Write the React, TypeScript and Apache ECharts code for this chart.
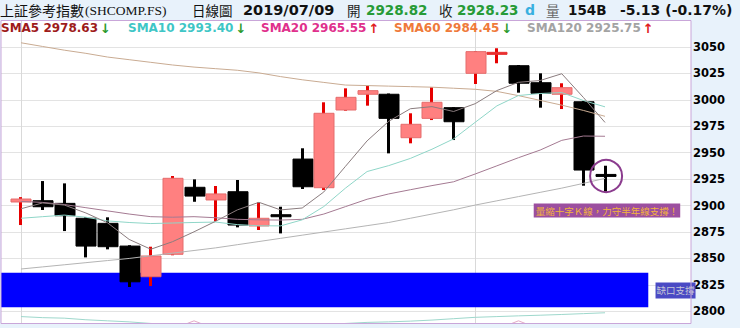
import React, { useEffect, useRef } from 'react';
import * as echarts from 'echarts';

// trading days (index = position on the x axis)
const dates = [
  '05/30', '05/31', '06/03', '06/04', '06/05', '06/06', '06/10', '06/11', '06/12', '06/13',
  '06/14', '06/17', '06/18', '06/19', '06/20', '06/21', '06/24', '06/25', '06/26', '06/27',
  '06/28', '07/01', '07/02', '07/03', '07/04', '07/05', '07/08', '07/09',
];
const opens = [
  2903.4, 2904.6, 2902.1, 2888.0, 2883.2, 2861.7, 2832.7, 2853.9, 2917.3, 2905.3,
  2913.1, 2880.7, 2890.8, 2944.0, 2916.9, 2990.4, 3005.3, 3005.3, 2964.2, 2982.5,
  2992.6, 3025.1, 3043.5, 3032.3, 3016.2, 3005.3, 2998.2, 2928.82,
];
const closes = [
  2906.2, 2898.9, 2890.4, 2861.7, 2861.1, 2827.9, 2852.3, 2925.8, 2909.0, 2911.0,
  2881.6, 2888.0, 2890.0, 2917.8, 2987.3, 3002.4, 3008.7, 2982.5, 2976.9, 2997.7,
  2979.3, 3045.6, 3044.5, 3015.7, 3006.2, 3011.5, 2933.6, 2928.23,
];
const highs = [
  2908.0, 2923.2, 2921.0, 2889.0, 2888.9, 2862.5, 2861.1, 2928.0, 2924.8, 2918.5,
  2924.2, 2903.1, 2898.9, 2954.2, 2997.7, 3010.9, 3013.4, 3006.0, 2987.3, 3011.9,
  2993.0, 3046.2, 3048.8, 3033.0, 3025.1, 3015.7, 2999.0, 2937.7,
];
const lows = [
  2881.6, 2895.8, 2875.9, 2851.0, 2858.6, 2823.0, 2823.9, 2853.0, 2903.6, 2885.4,
  2879.4, 2876.9, 2873.7, 2915.7, 2914.7, 2989.7, 2994.5, 2949.4, 2958.9, 2980.9,
  2962.0, 3015.0, 3034.6, 3006.8, 2992.6, 2991.3, 2918.8, 2913.1,
];
const sma5 = [
  2897.0, 2902.5, 2900.5, 2893.0, 2883.7, 2868.0, 2858.7, 2865.8, 2875.2, 2885.2,
  2895.9, 2903.1, 2895.9, 2897.7, 2912.9, 2937.1, 2961.2, 2979.7, 2991.6, 2993.6,
  2989.0, 2996.4, 3008.8, 3016.6, 3018.3, 3024.7, 3002.3, 2978.63,
];
const sma10 = [
  2888.0, 2889.5, 2891.0, 2889.0, 2885.5, 2884.0, 2883.0, 2883.5, 2884.0, 2884.4,
  2882.0, 2880.9, 2880.8, 2886.5, 2899.1, 2916.5, 2932.2, 2937.8, 2944.6, 2953.3,
  2963.1, 2978.8, 2994.3, 3004.1, 3006.0, 3006.9, 2999.4, 2993.40,
];
const sma20 = [
  2904.0, 2903.0, 2901.0, 2898.0, 2895.0, 2892.0, 2889.5, 2889.0, 2889.5, 2888.5,
  2887.0, 2886.5, 2886.3, 2887.0, 2892.0, 2899.0, 2906.0, 2911.0, 2915.0, 2918.9,
  2922.5, 2929.9, 2937.6, 2945.3, 2952.5, 2961.7, 2965.8, 2965.55,
];
const sma60 = [
  3054.0, 3050.5, 3047.0, 3044.0, 3040.5, 3038.0, 3035.5, 3033.0, 3031.0, 3029.5,
  3028.0, 3025.5, 3022.0, 3019.0, 3016.5, 3014.0, 3013.5, 3013.0, 3012.5, 3012.0,
  3011.0, 3010.0, 3008.0, 3004.0, 2999.5, 2995.0, 2990.0, 2984.45,
];
const sma120 = [
  2840.0, 2842.0, 2844.0, 2846.0, 2848.0, 2850.0, 2852.5, 2855.0, 2857.5, 2860.0,
  2863.0, 2866.0, 2869.0, 2872.0, 2875.0, 2878.0, 2881.0, 2884.0, 2888.0, 2892.0,
  2896.0, 2900.5, 2904.5, 2908.5, 2912.5, 2916.5, 2921.0, 2925.75,
];
// faint lines peeking above the bottom of the frame
const lowTeal = [
  2795.0, 2794.0, 2793.5, 2792.0, 2791.0, 2790.0, 2788.5, 2787.5, 2787.0, 2786.5,
  2786.0, 2786.0, 2786.5, 2787.0, 2787.5, 2788.5, 2789.5, 2790.0, 2790.7, 2791.7,
  2793.0, 2794.3, 2795.0, 2795.7, 2796.3, 2797.0, 2797.8, 2798.6,
];
const lowPink = [
  2783, 2783, 2783, 2783, 2783, 2783, 2783, 2783, 2791, 2783,
  2783, 2783, 2783, 2783, 2783, 2783, 2783, 2783, 2783, 2783,
  2783, 2783, 2783, 2791, 2783, 2783, 2783, 2783,
];

const legendItems = [
  { name: 'SMA5', value: '2978.63', up: false, color: '#9e1b1b', x: 1 },
  { name: 'SMA10', value: '2993.40', up: false, color: '#3fc6c6', x: 128 },
  { name: 'SMA20', value: '2965.55', up: true, color: '#e0308c', x: 261 },
  { name: 'SMA60', value: '2984.45', up: false, color: '#ef7a3a', x: 394 },
  { name: 'SMA120', value: '2925.75', up: true, color: '#a3a3a3', x: 527 },
];

const Y_MIN = 2775;
const Y_MAX = 3075;
const Y_STEP = 25;
const X_MIN = -0.9246;
const X_MAX = 30.975;

const gapBox = { fromIdx: X_MIN, toIdx: 29, top: 2836.5, bottom: 2803.8 };
const noteText = '量縮十字Ｋ線，力守半年線支撐！';
const gapText = '缺口支撐';

const BG = '#e8f2fb';
const CJK = '"Noto Sans CJK TC", "Noto Sans CJK SC", sans-serif';
const SANS = '"DejaVu Sans", Verdana, sans-serif';

export default function App() {
  const ref = useRef<HTMLDivElement>(null);

  useEffect(() => {
    document.body.style.margin = '0';
    const chart = echarts.init(ref.current as HTMLDivElement, undefined, { renderer: 'svg' });

    const line = (name: string, data: number[], color: string, z = 4) => ({
      type: 'line',
      name,
      data: data.map((v, i) => [i, v]),
      showSymbol: false,
      symbol: 'none',
      silent: true,
      z,
      lineStyle: { color, width: 1 },
    });

    const header: any[] = [
      { t: '上証參考指數', x: 0, font: `14px ${CJK}`, fill: '#111' },
      { t: '(SHCOMP.FS)', x: 85, font: '13.5px "Liberation Serif", serif', fill: '#111' },
      { t: '日線圖', x: 192, font: `13.5px ${CJK}`, fill: '#111' },
      { t: '2019/07/09', x: 243, font: `bold 14.5px ${SANS}`, fill: '#111' },
      { t: '開', x: 347, font: `13.5px ${CJK}`, fill: '#222' },
      { t: '2928.82', x: 366, font: `bold 13.5px ${SANS}`, fill: '#279b37' },
      { t: '收', x: 439, font: `13.5px ${CJK}`, fill: '#222' },
      { t: '2928.23', x: 457, font: `bold 13.5px ${SANS}`, fill: '#279b37' },
      { t: 'd', x: 525, font: `bold 14px ${SANS}`, fill: '#38b0e0' },
      { t: '量', x: 546, font: `13.5px ${CJK}`, fill: '#666' },
      { t: '154B', x: 568, font: `bold 13.5px ${SANS}`, fill: '#111' },
      { t: '-5.13 (-0.17%)', x: 620, font: `bold 14px ${SANS}`, fill: '#111' },
    ].map((h) => ({
      type: 'text',
      x: h.x,
      y: 10,
      silent: true,
      z: 30,
      style: { text: h.t, font: h.font, fill: h.fill, verticalAlign: 'middle' },
    }));

    const legend: any[] = legendItems.map((it) => ({
      type: 'text',
      x: it.x,
      y: 28,
      silent: true,
      z: 30,
      style: {
        text: `{n|${it.name} ${it.value}}{a|${it.up ? '↑' : '↓'}}`,
        verticalAlign: 'middle',
        rich: {
          n: { font: `bold 12px ${SANS}`, fill: it.color },
          a: { font: `bold 13px ${SANS}`, fill: it.up ? '#e02020' : '#2a9a2a', padding: [0, 0, 0, 2] },
        },
      },
    }));

    const option: any = {
      animation: false,
      backgroundColor: BG,
      grid: {
        left: 1,
        top: 20.57,
        width: 690,
        height: 317.16,
        show: true,
        backgroundColor: '#ffffff',
        borderWidth: 0,
        containLabel: false,
        outerBoundsMode: 'none',
      },
      xAxis: { type: 'value', min: X_MIN, max: X_MAX, show: false },
      yAxis: {
        type: 'value',
        position: 'right',
        min: Y_MIN,
        max: Y_MAX,
        interval: Y_STEP,
        axisLine: { show: false },
        axisTick: { show: false },
        axisLabel: {
          margin: 2,
          color: '#000',
          fontWeight: 'bold',
          fontSize: 11.5,
          fontFamily: 'DejaVu Sans',
          formatter: (v: number) => (v === Y_MIN || v === Y_MAX ? '' : String(v)),
        },
        splitLine: { lineStyle: { color: '#e3e3e3', width: 1 } },
      },
      graphic: [
        {
          type: 'rect',
          z: 19,
          silent: true,
          shape: { x: 0, y: 323.5, width: 740, height: 20 },
          style: { fill: BG },
        },
        {
          type: 'rect',
          z: 20,
          silent: true,
          shape: { x: 1, y: 20.5, width: 690, height: 303 },
          style: { fill: 'none', stroke: '#c9a6d9', lineWidth: 1 },
        },
        ...header,
        ...legend,
      ],
      series: [
        {
          type: 'custom',
          name: 'K',
          z: 3,
          silent: true,
          data: opens.map((o, i) => [i, o, closes[i], lows[i], highs[i], dates[i]]),
          encode: { x: 0, y: [1, 2, 3, 4] },
          renderItem: (params: any, api: any) => {
            const i = api.value(0);
            const o = api.value(1);
            const c = api.value(2);
            const lo = api.value(3);
            const hi = api.value(4);
            const pO = api.coord([i, o]);
            const pC = api.coord([i, c]);
            const pH = api.coord([i, hi]);
            const pL = api.coord([i, lo]);
            const w = Math.round(api.size([1, 0])[0] * 0.925);
            const up = c > o;
            const cx = Math.round(pO[0] - 0.5) + 0.5;
            let h = Math.abs(pO[1] - pC[1]);
            const thin = h < 2.5;
            const mid = (pO[1] + pC[1]) / 2;
            if (h < 2) h = 2;
            const yTop = mid - h / 2;
            const wick = up ? '#e60000' : '#000000';
            const fill = up ? (thin ? '#e83030' : '#ff8080') : '#000000';
            const stroke = up ? (thin ? '#e83030' : '#e56c6c') : '#000000';
            return {
              type: 'group',
              children: [
                {
                  type: 'line',
                  shape: { x1: cx, y1: pH[1], x2: cx, y2: pL[1] },
                  style: { stroke: wick, lineWidth: 3 },
                },
                {
                  type: 'rect',
                  shape: { x: Math.round(cx - w / 2), y: yTop, width: w, height: h },
                  style: { fill, stroke, lineWidth: 1 },
                },
              ],
            };
          },
          markArea: {
            silent: true,
            z: 1.5,
            itemStyle: { color: '#0000ff', opacity: 1, borderWidth: 0 },
            label: { show: false },
            data: [[
              { xAxis: gapBox.fromIdx, yAxis: gapBox.top },
              { xAxis: gapBox.toIdx, yAxis: gapBox.bottom },
            ]],
          },
          markLine: {
            silent: true,
            z: 1,
            symbol: ['none', 'none'],
            label: { show: false },
            lineStyle: { color: '#d9d9d9', width: 1, type: 'solid' },
            data: [{ xAxis: 0 }, { xAxis: 21 }],
          },
          markPoint: {
            silent: true,
            z: 6,
            data: [
              {
                coord: [27.05, 2928.0],
                symbol: 'circle',
                symbolSize: 32,
                itemStyle: { color: 'rgba(0,0,0,0)', borderColor: '#8b3c8e', borderWidth: 2 },
                label: { show: false },
              },
              {
                coord: [27.09, 2895.3],
                symbol: 'rect',
                symbolSize: 0,
                label: {
                  show: true,
                  position: 'inside',
                  formatter: noteText,
                  backgroundColor: '#9c4f9f',
                  color: '#f3b43c',
                  fontSize: 9.5,
                  fontFamily: CJK,
                  lineHeight: 11,
                  padding: [2, 2, 1, 2],
                },
              },
              {
                coord: [30.26, 2819.7],
                symbol: 'rect',
                symbolSize: 0,
                label: {
                  show: true,
                  position: 'inside',
                  formatter: gapText,
                  backgroundColor: '#4a4ac4',
                  color: '#c6c6d6',
                  fontSize: 9.5,
                  fontFamily: CJK,
                  lineHeight: 12,
                  padding: [2, 1, 2, 1],
                },
              },
            ],
          },
        },
        line('SMA120', sma120, '#b4b4b4'),
        line('SMA60', sma60, '#c9ab92'),
        line('SMA20', sma20, '#a47a92'),
        line('SMA10', sma10, '#8fd6c8'),
        line('SMA5', sma5, '#8a7c7e'),
        line('low-teal', lowTeal, '#9ed8cc'),
        line('low-pink', lowPink, '#e3a9c6'),
      ],
    };

    chart.setOption(option);
    return () => chart.dispose();
  }, []);

  return <div ref={ref} style={{ width: 740, height: 328 }} />;
}
